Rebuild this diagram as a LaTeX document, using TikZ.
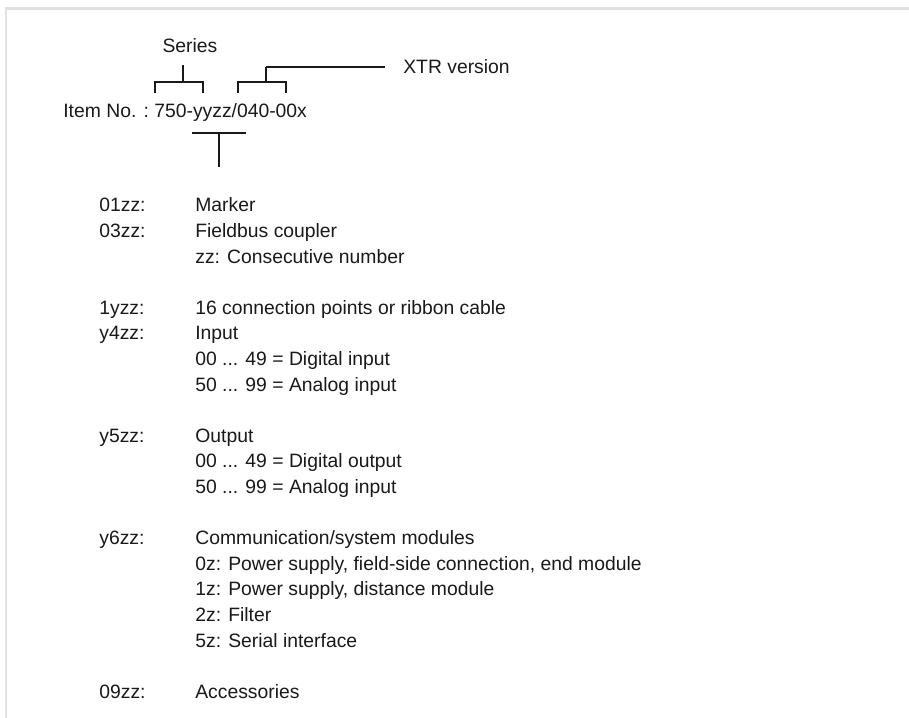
\documentclass[tikz,border=0pt]{standalone}
\usepackage{fontspec}
\setmainfont{Liberation Sans}
\usetikzlibrary{positioning}
\definecolor{WFrame}{RGB}{228,224,220}
\definecolor{WInk}{RGB}{25,25,25}

\begin{document}
\begin{tikzpicture}[
  lbl/.style={anchor=base west,inner sep=0pt,font=\fontsize{11}{13}\selectfont,text=WInk},
  brk/.style={draw=WInk,line width=1.1pt},
  frame/.style={draw=WFrame,line width=1.4pt}]
  \useasboundingbox (0,0) rectangle (18.18,-14.36);
  \draw[frame] (0.12,-14.36) -- (0.12,-0.174) -- (18.18,-0.174);
  % item number with its brackets
  \node[lbl,anchor=base] (series) at (3.80,-1.06) {Series};
  \node[lbl] (item) at (1.26,-2.36) {Item No. :};
  \node[lbl] (code) at (3.08,-2.36) {750-yyzz/040-00x};
  \node[lbl] (xtr) at (8.06,-1.48) {XTR version};
  \coordinate (serL) at (3.10,-1.86);
  \coordinate (serR) at (4.06,-1.86);
  \coordinate (serT) at (3.66,-1.30);
  \coordinate (xtrL) at (4.76,-1.86);
  \coordinate (xtrR) at (5.72,-1.86);
  \coordinate (xtrT) at (5.32,-1.34);
  \coordinate (tL) at (3.84,-2.66);
  \coordinate (tR) at (4.92,-2.66);
  \coordinate (tB) at (4.38,-3.34);
  \draw[brk] (serL) -- ++(0,0.22) -| (serR);
  \draw[brk] (serT) -- (serT |- 0,-1.64);
  \draw[brk] (xtrL) -- ++(0,0.22) -| (xtrR);
  \draw[brk] (xtrT) -- (xtrT |- 0,-1.64);
  \draw[brk] (xtrT) -- ([xshift=-0.36cm]xtr.west |- xtrT);
  \draw[brk] (tL) -- (tR);
  \draw[brk] (tB) -- (tB |- tL);
  % key to the digits
  \node[lbl] (k01) at (1.98,-4.24) {01zz:};
  \node[lbl] (d01) at (3.90,-4.24) {Marker};
  \node[lbl] (k03) at (1.98,-4.752) {03zz:};
  \node[lbl] (d03) at (3.90,-4.752) {Fieldbus coupler};
  \node[lbl] (d03a) at (3.90,-5.264) {zz: Consecutive number};
  \node[lbl] (k1y) at (1.98,-6.288) {1yzz:};
  \node[lbl] (d1y) at (3.90,-6.288) {16 connection points or ribbon cable};
  \node[lbl] (k4) at (1.98,-6.80) {y4zz:};
  \node[lbl] (d4) at (3.90,-6.80) {Input};
  \node[lbl] (d4a) at (3.90,-7.312) {00 ... 49 = Digital input};
  \node[lbl] (d4b) at (3.90,-7.824) {50 ... 99 = Analog input};
  \node[lbl] (k5) at (1.98,-8.848) {y5zz:};
  \node[lbl] (d5) at (3.90,-8.848) {Output};
  \node[lbl] (d5a) at (3.90,-9.36) {00 ... 49 = Digital output};
  \node[lbl] (d5b) at (3.90,-9.872) {50 ... 99 = Analog input};
  \node[lbl] (k6) at (1.98,-10.896) {y6zz:};
  \node[lbl] (d6) at (3.90,-10.896) {Communication/system modules};
  \node[lbl] (d6a) at (3.90,-11.408) {0z: Power supply, field-side connection, end module};
  \node[lbl] (d6b) at (3.90,-11.92) {1z: Power supply, distance module};
  \node[lbl] (d6c) at (3.90,-12.432) {2z: Filter};
  \node[lbl] (d6d) at (3.90,-12.944) {5z: Serial interface};
  \node[lbl] (k09) at (1.98,-13.968) {09zz:};
  \node[lbl] (d09) at (3.90,-13.968) {Accessories};
\end{tikzpicture}
\end{document}
